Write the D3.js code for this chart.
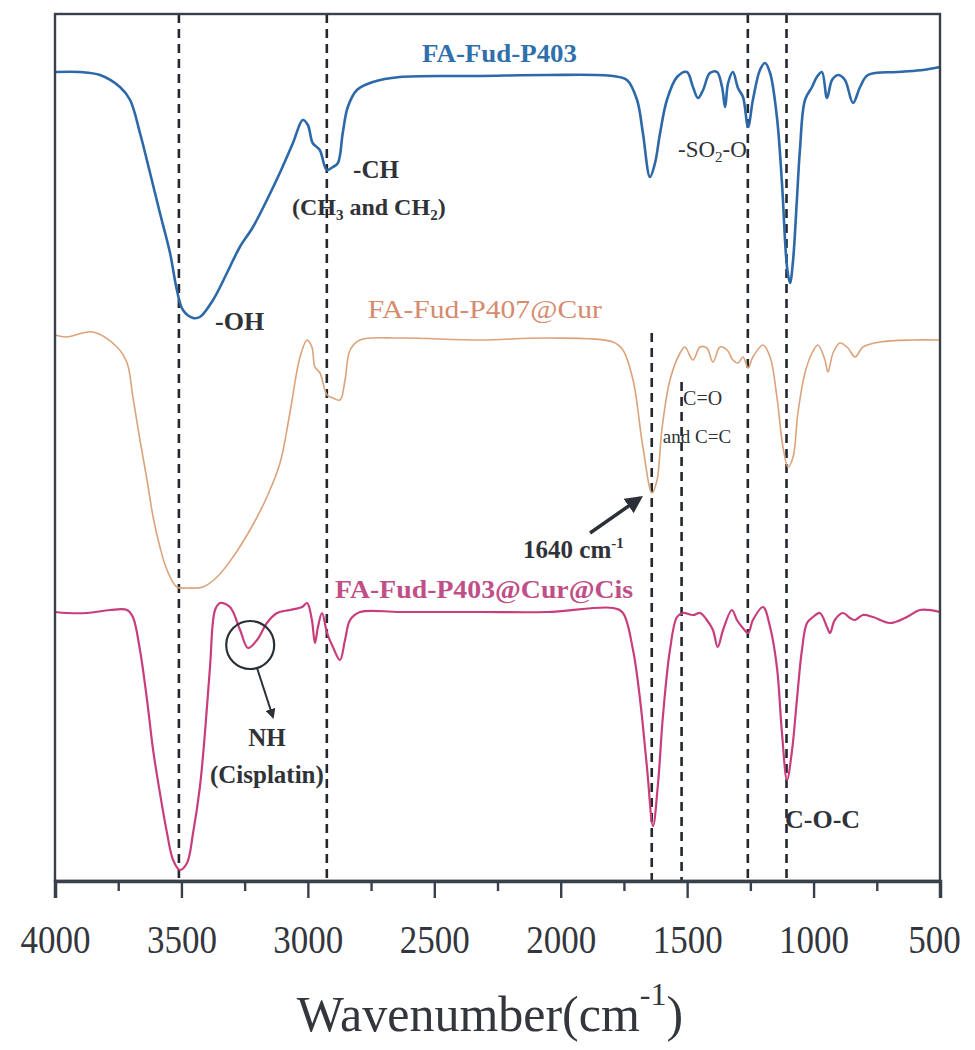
<!DOCTYPE html>
<html>
<head>
<meta charset="utf-8">
<script src="https://cdn.jsdelivr.net/npm/d3@7"></script>
<style>
  body { margin: 0; background: #fff; }
  text { font-family: "Liberation Serif", "DejaVu Serif", serif; }
</style>
</head>
<body>
<svg id="chart"></svg>
<script>
// wavenumber (cm-1) and transmittance (a.u., offset)
var wnBlue = [4000,3900,3822,3743,3703,3664,3624,3585,3545,3518,3494,3454,3427,3375,3320,3269,3217,3162,3111,3059,3020,3000,2981,2953,2925,2901,2881,2862,2842,2806,2743,2636,2319,2054,1793,1738,1698,1675,1647,1627,1607,1580,1540,1501,1477,1457,1437,1410,1382,1362,1350,1338,1319,1299,1279,1259,1240,1212,1192,1172,1145,1125,1105,1093,1081,1066,1054,1034,1006,987,967,947,927,903,876,844,816,785,670,567,500];
var tBlue = [80.9,80.9,80.6,79.4,78.1,74.8,70.8,66.8,62.8,59.1,57.1,56.3,56.4,58.1,60.8,63.4,65.4,68.1,70.8,73.8,76.1,75.6,73.8,73.1,71.1,71.4,71.8,74.8,77.4,79.1,79.9,80.4,80.5,80.6,80.5,80.1,78.1,74.8,70.4,71.8,74.8,78.1,80.4,80.9,79.4,78.3,79.1,80.8,80.9,79.4,77.4,79.8,80.9,79.3,78.4,75.4,78.1,81.1,81.8,80.8,76.4,69.8,61.4,59.8,62.1,68.1,73.1,78.1,79.4,80.4,80.9,78.3,80.1,80.6,80.1,77.8,79.4,80.6,80.9,81.1,81.4];

var wnOrange = [4000,3953,3850,3755,3715,3692,3664,3636,3612,3585,3557,3518,3478,3415,3359,3296,3229,3162,3110,3071,3031,3003,2984,2972,2952,2924,2901,2873,2853,2833,2794,2636,2319,2054,1793,1754,1714,1675,1639,1619,1600,1568,1528,1509,1477,1449,1422,1398,1370,1342,1319,1299,1279,1259,1240,1200,1172,1145,1121,1101,1081,1062,1034,1006,983,955,943,923,896,864,836,805,737,607,500];
var tOrange = [54.6,54.4,54.9,53.4,51.8,48.4,44.1,40.1,36.4,33.4,31.1,29.4,29.3,29.4,30.4,32.4,35.1,38.4,41.8,46.8,52.4,54.1,53.4,51.4,50.8,48.6,48.3,48.1,50.1,53.1,54.1,54.3,54.1,54.3,53.9,53.1,50.1,43.4,38.8,40.1,45.1,50.1,52.8,53.4,52.1,53.4,53.3,51.9,53.4,53.1,52.1,51.8,52.4,51.3,52.4,53.6,52.4,48.4,43.4,41.4,42.4,46.8,50.8,52.8,53.6,52.1,50.9,52.8,53.8,53.3,52.4,53.4,53.9,54.1,54.1];

var wnPink = [4000,3953,3873,3782,3715,3692,3664,3636,3612,3585,3557,3533,3506,3478,3454,3427,3407,3387,3367,3347,3308,3268,3237,3201,3162,3122,3071,3023,3003,2984,2972,2960,2944,2924,2901,2873,2853,2833,2794,2636,2319,2054,1793,1754,1714,1686,1659,1635,1615,1596,1568,1540,1516,1477,1449,1422,1398,1379,1358,1323,1303,1283,1259,1240,1200,1172,1145,1125,1105,1085,1066,1046,1026,1002,975,947,935,916,884,856,836,805,765,698,631,579,500];
var tPink = [26.9,26.8,26.8,27.1,27.1,26.4,23.1,18.1,13.1,8.8,4.8,2.1,1.1,1.8,4.8,9.4,14.8,21.4,27.1,27.8,27.4,25.1,23.3,24.1,25.8,26.8,27.1,27.4,27.8,26.1,23.8,25.4,26.8,24.8,23.4,22.1,24.1,26.1,26.9,26.9,26.9,26.9,27.3,26.8,23.1,18.1,11.4,5.5,9.8,16.4,23.1,26.4,26.8,26.6,26.8,26.1,25.1,23.4,25.1,27.1,26.1,25.4,24.8,26.1,27.4,25.4,21.4,14.8,10.1,13.1,18.1,23.1,25.8,26.4,26.8,25.4,24.8,26.1,26.8,26.3,26.1,26.6,26.4,25.8,26.4,27.1,26.9];

var seriesNames = ["FA-Fud-P403", "FA-Fud-P407@Cur", "FA-Fud-P403@Cur@Cis"];
var majorTicks = [4000, 3500, 3000, 2500, 2000, 1500, 1000, 500];
var minorTicks = [3750, 3250, 2750, 2250, 1750, 1250, 750];
// band positions marked with dashed lines, and where each line starts
var bandWn = [3510, 2925, 1640, 1522, 1260, 1107];
var bandTop = [86.7, 86.7, 54.8, 49.9, 86.7, 86.7];

(function() {
    var width = 975, height = 1050;
    var mLeft = 55, mRight = 940, mTop = 14, mBottom = 881;

    var svg = d3.select("#chart")
        .attr("width", width)
        .attr("height", height);

    svg.append("rect")
        .attr("width", width)
        .attr("height", height)
        .attr("fill", "#fff");

    var defs = svg.append("defs");
    defs.append("marker")
        .attr("id", "head")
        .attr("viewBox", "0 0 10 10")
        .attr("refX", 8).attr("refY", 5)
        .attr("markerWidth", 5).attr("markerHeight", 5)
        .attr("orient", "auto")
        .append("path")
        .attr("d", "M0,0 L10,5 L0,10 z")
        .attr("fill", "#2b2f36");

    var x = d3.scaleLinear().domain([4000, 500]).range([mLeft, mRight]);
    var y = d3.scaleLinear().domain([0, 86.7]).range([mBottom, mTop]);

    var line = d3.line()
        .x(function(d) { return x(d[0]); })
        .y(function(d) { return y(d[1]); })
        .curve(d3.curveCatmullRom.alpha(0.5));

    // dashed marker lines
    svg.append("g").selectAll("line")
        .data(bandWn)
        .join("line")
        .attr("x1", function(d) { return x(d); })
        .attr("x2", function(d) { return x(d); })
        .attr("y1", function(d, i) { return y(bandTop[i]); })
        .attr("y2", y(0))
        .attr("stroke", "#23272e")
        .attr("stroke-width", 2.6)
        .attr("stroke-dasharray", "9,6");

    var series = [
        { wn: wnBlue, t: tBlue, color: "#2d68a8", w: 2.6 },
        { wn: wnOrange, t: tOrange, color: "#dba37c", w: 1.6 },
        { wn: wnPink, t: tPink, color: "#c83d7c", w: 2.2 }
    ];

    series.forEach(function(s) {
        svg.append("path")
            .datum(s.wn.map(function(w, i) { return [w, s.t[i]]; }))
            .attr("d", line)
            .attr("fill", "none")
            .attr("stroke", s.color)
            .attr("stroke-width", s.w)
            .attr("stroke-linejoin", "round");
    });

    // frame
    svg.append("rect")
        .attr("x", mLeft).attr("y", mTop)
        .attr("width", mRight - mLeft).attr("height", mBottom - mTop)
        .attr("fill", "none")
        .attr("stroke", "#38404c")
        .attr("stroke-width", 2.4);

    // bottom axis: major + minor ticks
    var axisMinor = svg.append("g")
        .attr("transform", "translate(0," + mBottom + ")")
        .call(d3.axisBottom(x).tickValues(minorTicks).tickSize(10).tickFormat(""));
    axisMinor.select(".domain").remove();
    axisMinor.selectAll("line").attr("stroke", "#38404c").attr("stroke-width", 2.4);

    var axis = svg.append("g")
        .attr("transform", "translate(0," + mBottom + ")")
        .call(d3.axisBottom(x).tickValues(majorTicks).tickSize(17).tickFormat(d3.format("d")));
    axis.select(".domain").attr("stroke", "#38404c").attr("stroke-width", 3.5);
    axis.selectAll("line").attr("stroke", "#38404c").attr("stroke-width", 2.4);
    axis.selectAll("text")
        .attr("y", 72).attr("dy", 0)
        .attr("x", function(d) { return d === 500 ? -6 : 0; })
        .attr("fill", "#33363c")
        .style("font-family", "'Liberation Serif', serif")
        .style("font-size", "40px")
        .attr("textLength", function(d) { return String(d).length * 17.5; })
        .attr("lengthAdjust", "spacingAndGlyphs");

    var title = svg.append("text")
        .attr("x", 490)
        .attr("y", 1031)
        .attr("text-anchor", "middle")
        .attr("fill", "#33363c")
        .style("font-size", "50px");
    title.append("tspan").text("Wavenumber(cm");
    title.append("tspan").attr("dy", -26).style("font-size", "32px").text("-1");
    title.append("tspan").attr("dy", 26).text(")");

    // series names
    var nameColors = ["#2f6fab", "#d68a6e", "#bf4f86"];
    var namePos = [[2242, 81.9, 155, "bold"], [2300, 56.3, 234, "normal"], [2303, 28.3, 298, "bold"]];
    seriesNames.forEach(function(n, i) {
        svg.append("text")
            .attr("x", x(namePos[i][0]))
            .attr("y", y(namePos[i][1]))
            .attr("text-anchor", "middle")
            .attr("fill", nameColors[i])
            .attr("textLength", namePos[i][2])
            .attr("lengthAdjust", "spacingAndGlyphs")
            .style("font-size", "26px")
            .style("font-weight", namePos[i][3])
            .text(n);
    });

    // band annotations
    var ink = "#2f3237";
    function note(wn, t, size, weight, anchor) {
        return svg.append("text")
            .attr("x", x(wn)).attr("y", y(t))
            .attr("text-anchor", anchor || "start")
            .attr("fill", ink)
            .style("font-size", size + "px")
            .style("font-weight", weight);
    }
    function sub(el, s, size) {
        el.append("tspan").attr("dy", 5).style("font-size", size + "px").text(s);
    }

    note(2821, 70.3, 25, "bold").text("-CH");
    var ch = note(3063, 66.6, 24, "bold");
    ch.append("tspan").text("(CH");
    sub(ch, "3", 15);
    ch.append("tspan").attr("dy", -5).text(" and CH");
    sub(ch, "2", 15);
    ch.append("tspan").attr("dy", -5).text(")");

    note(3367, 55.1, 26, "bold").text("-OH");

    var so = note(1536, 72.4, 23, "normal");
    so.append("tspan").text("-SO");
    sub(so, "2", 15);
    so.append("tspan").attr("dy", -5).text("-O");

    note(1516, 47.6, 20, "normal").text("C=O");
    note(1596, 43.8, 19, "normal").text("and C=C");

    var cm = note(2149, 32.3, 25, "bold");
    cm.append("tspan").text("1640 cm");
    cm.append("tspan").attr("dy", -10).style("font-size", "15px").text("-1");

    note(3162, 13.5, 25, "bold", "middle").text("NH");
    note(3162, 9.8, 25, "bold", "middle").text("(Cisplatin)");
    note(1113, 5.3, 26, "bold").text("C-O-C");

    // arrow to the 1640 band
    svg.append("line")
        .attr("x1", x(1884)).attr("y1", y(34.8))
        .attr("x2", x(1686)).attr("y2", y(38.3))
        .attr("stroke", "#2b2f36")
        .attr("stroke-width", 3.5)
        .attr("marker-end", "url(#head)");

    // circle around the NH shoulder and its pointer
    svg.append("circle")
        .attr("cx", x(3228)).attr("cy", y(23.6))
        .attr("r", 24)
        .attr("fill", "none")
        .attr("stroke", "#2b2f36")
        .attr("stroke-width", 2.2);
    svg.append("line")
        .attr("x1", x(3201)).attr("y1", y(21.3))
        .attr("x2", x(3138)).attr("y2", y(16.4))
        .attr("stroke", "#2b2f36")
        .attr("stroke-width", 2)
        .attr("marker-end", "url(#head)");
})();
</script>
</body>
</html>
